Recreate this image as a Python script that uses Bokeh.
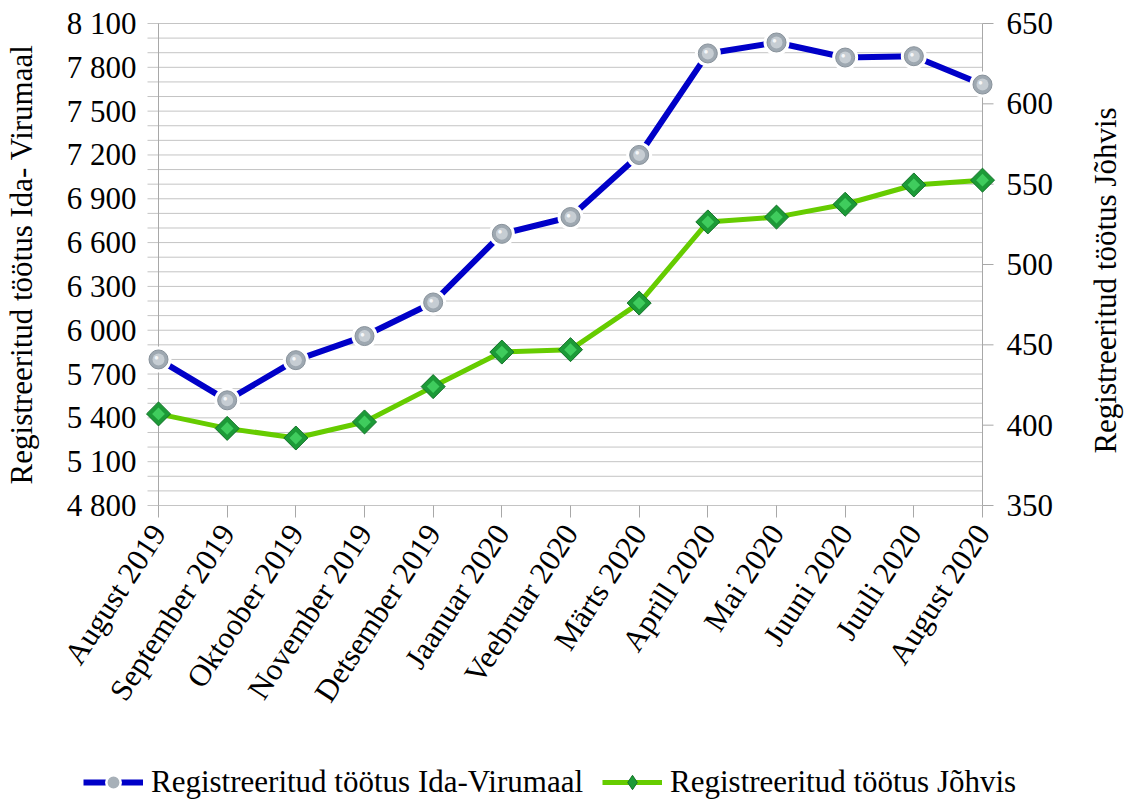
import math
from bokeh.plotting import figure
from bokeh.layouts import column, row
from bokeh.models import Range1d, LinearAxis, FixedTicker, Legend, LegendItem
from bokeh.embed import file_html
from bokeh.resources import INLINE

# ---------------- data ----------------
months = ["August 2019", "September 2019", "Oktoober 2019", "November 2019",
          "Detsember 2019", "Jaanuar 2020", "Veebruar 2020", "Märts 2020",
          "Aprill 2020", "Mai 2020", "Juuni 2020", "Juuli 2020", "August 2020"]
ida_virumaa = [5800, 5520, 5795, 5960, 6190, 6660, 6775, 7200, 7895, 7970, 7867, 7876, 7682]
johvi = [407, 398, 392, 402, 424, 445.5, 447, 476, 526.5, 529.5, 537.5, 549.5, 552.5]
left_ticks = [4800, 5100, 5400, 5700, 6000, 6300, 6600, 6900, 7200, 7500, 7800, 8100]
right_ticks = [350, 400, 450, 500, 550, 600, 650]
name_ida = "Registreeritud töötus Ida-Virumaal"
name_joh = "Registreeritud töötus Jõhvis"
left_title = "Registreeritud töötus Ida- Virumaal"
right_title = "Registreeritud töötus Jõhvis"

# ---------------- geometry / style ----------------
FONT = "Liberation Serif"
FS = "31px"
n = len(months)
xs = list(range(n))
span_px = 824.0
px_per_x = span_px / (n - 1)
pad_px = 14
x_pad = pad_px / px_per_x
frame_w = int(span_px + 2 * pad_px)
frame_h = 486
ypad_px = 2
lmin, lmax = left_ticks[0], left_ticks[-1]
rmin, rmax = right_ticks[0], right_ticks[-1]
l_pad = ypad_px * (lmax - lmin) / (frame_h - 2 * ypad_px)
r_pad = ypad_px * (rmax - rmin) / (frame_h - 2 * ypad_px)

TOTAL_W, TOTAL_H = 1125, 801
TITLE_W = 66
BORDER_L, BORDER_T, BORDER_B = 144, 21, 240
MAIN_W = TOTAL_W - TITLE_W
BORDER_R = MAIN_W - BORDER_L - frame_w
MAIN_H = BORDER_T + frame_h + BORDER_B

GRID = "#c4c4c4"
AXIS = "#a8a8a8"
BLUE = "#0000c8"
GREEN = "#66cc00"

p = figure(frame_width=frame_w, frame_height=frame_h,
           min_border_left=BORDER_L, min_border_right=BORDER_R,
           min_border_top=BORDER_T, min_border_bottom=BORDER_B,
           x_range=Range1d(-x_pad, (n - 1) + x_pad),
           y_range=Range1d(lmin - l_pad, lmax + l_pad),
           output_backend="svg", toolbar_location=None)
p.extra_y_ranges = {"r": Range1d(rmin - r_pad, rmax + r_pad)}
p.outline_line_color = None
p.xgrid.visible = False
p.ygrid.visible = False

# left axis
ya = p.yaxis[0]
ya.ticker = FixedTicker(ticks=left_ticks, minor_ticks=[])
ya.major_label_overrides = {t: f"{t:,}".replace(",", " ") for t in left_ticks}
ya.axis_line_color = None
ya.major_tick_line_color = None
ya.minor_tick_line_color = None
ya.major_label_standoff = 2
ya.major_label_text_font = FONT
ya.major_label_text_font_size = FS
ya.major_label_text_color = "black"
ya.axis_label = left_title
ya.axis_label_text_font = FONT
ya.axis_label_text_font_size = FS
ya.axis_label_text_font_style = "normal"
ya.axis_label_text_color = "black"
ya.axis_label_standoff = 25

# right axis (its title is drawn in the strip beside the plot)
ra = LinearAxis(y_range_name="r", ticker=FixedTicker(ticks=right_ticks, minor_ticks=[]))
ra.axis_line_color = None
ra.major_tick_line_color = None
ra.minor_tick_line_color = None
ra.major_label_standoff = 4
ra.major_label_text_font = FONT
ra.major_label_text_font_size = FS
ra.major_label_text_color = "black"
p.add_layout(ra, "right")

# x axis
xa = p.xaxis[0]
xa.ticker = FixedTicker(ticks=xs, minor_ticks=[])
xa.major_label_overrides = {i: m for i, m in enumerate(months)}
xa.major_label_orientation = math.radians(57)
xa.axis_line_color = None
xa.major_tick_line_color = AXIS
xa.major_tick_in = 2
xa.major_tick_out = 10
xa.minor_tick_line_color = None
xa.major_label_standoff = 10
xa.major_label_text_font = FONT
xa.major_label_text_font_size = FS
xa.major_label_text_color = "black"

# gridlines (every 100) extending past the left axis as ticks
grid_vals = list(range(lmin, lmax + 1, 100))
tick_ext = 11 / px_per_x
p.segment(x0=[-tick_ext] * len(grid_vals), x1=[n - 1] * len(grid_vals),
          y0=grid_vals, y1=grid_vals, line_color=GRID, line_width=1)
p.segment(x0=[n - 1] * len(right_ticks), x1=[n - 1 + tick_ext] * len(right_ticks),
          y0=right_ticks, y1=right_ticks, y_range_name="r", line_color=AXIS, line_width=1)
p.segment(x0=[0, n - 1], x1=[0, n - 1], y0=[lmin, lmin], y1=[lmax, lmax],
          line_color=AXIS, line_width=1)

# series
p.line(xs, ida_virumaa, line_color=BLUE, line_width=6)
p.line(xs, johvi, y_range_name="r", line_color=GREEN, line_width=5)
p.scatter(xs, ida_virumaa, size=26, marker="circle", fill_color="white", line_color=None)
p.scatter(xs, ida_virumaa, size=19, marker="circle", fill_color="#9ea8b1",
          line_color="#87919a", line_width=1)
p.scatter(xs, ida_virumaa, size=12, marker="circle", fill_color="#c6cdd3", line_color=None)
p.text(xs, ida_virumaa, text=["●"] * n, x_offset=-2, y_offset=-2,
       text_font_size="8px", text_color="#f5f7f9", text_align="center",
       text_baseline="middle")
p.scatter(xs, johvi, y_range_name="r", size=17, marker="square", angle=math.pi / 4,
          fill_color="#1c9a37", line_color="#127228", line_width=1)
p.scatter(xs, johvi, y_range_name="r", size=9, marker="square", angle=math.pi / 4,
          fill_color="#3fcc5d", line_color=None)

# ---------------- right title strip ----------------
T_TOP = 37
t = figure(width=TITLE_W, height=MAIN_H, x_axis_type=None,
           min_border_left=TITLE_W - 2, min_border_right=0,
           min_border_top=T_TOP, min_border_bottom=MAIN_H - T_TOP - frame_h,
           x_range=Range1d(0, 1), y_range=Range1d(0, 1),
           output_backend="svg", toolbar_location=None)
t.outline_line_color = None
t.grid.visible = False
ty = t.yaxis[0]
ty.ticker = FixedTicker(ticks=[], minor_ticks=[])
ty.axis_line_color = None
ty.major_tick_line_color = None
ty.minor_tick_line_color = None
ty.major_label_standoff = 0
ty.axis_label = right_title
ty.axis_label_text_font = FONT
ty.axis_label_text_font_size = FS
ty.axis_label_text_font_style = "normal"
ty.axis_label_text_color = "black"
ty.axis_label_standoff = 1

# ---------------- legend strip ----------------
LH = TOTAL_H - MAIN_H
lg = figure(width=TOTAL_W, height=LH, x_axis_type=None, y_axis_type=None,
            min_border_left=0, min_border_right=0, min_border_top=0, min_border_bottom=0,
            x_range=Range1d(100, 101), y_range=Range1d(100, 101),
            output_backend="svg", toolbar_location=None)
lg.outline_line_color = None
lg.grid.visible = False
l_bl = lg.line(xs, ida_virumaa, line_color=BLUE, line_width=6)
l_bg = lg.scatter(xs, ida_virumaa, marker="circle", fill_color="#a7b0b8",
                  line_color="white", line_width=2.5)
l_gl = lg.line(xs, johvi, line_color=GREEN, line_width=5)
l_gd = lg.scatter(xs, johvi, marker="diamond", fill_color="#1c9a37",
                  line_color="#127228", line_width=1)
legend = Legend(items=[LegendItem(label=name_ida, renderers=[l_bl, l_bg]),
                       LegendItem(label=name_joh, renderers=[l_gl, l_gd])],
                location=(83, 1), orientation="horizontal",
                glyph_width=60, glyph_height=36, label_standoff=8, spacing=19,
                padding=0, margin=0, border_line_color=None,
                background_fill_alpha=0,
                label_text_font=FONT, label_text_font_size=FS,
                label_text_color="black")
lg.add_layout(legend)

layout = column(row(p, column(t)), lg)
open("out.html", "w").write(file_html(layout, INLINE))
